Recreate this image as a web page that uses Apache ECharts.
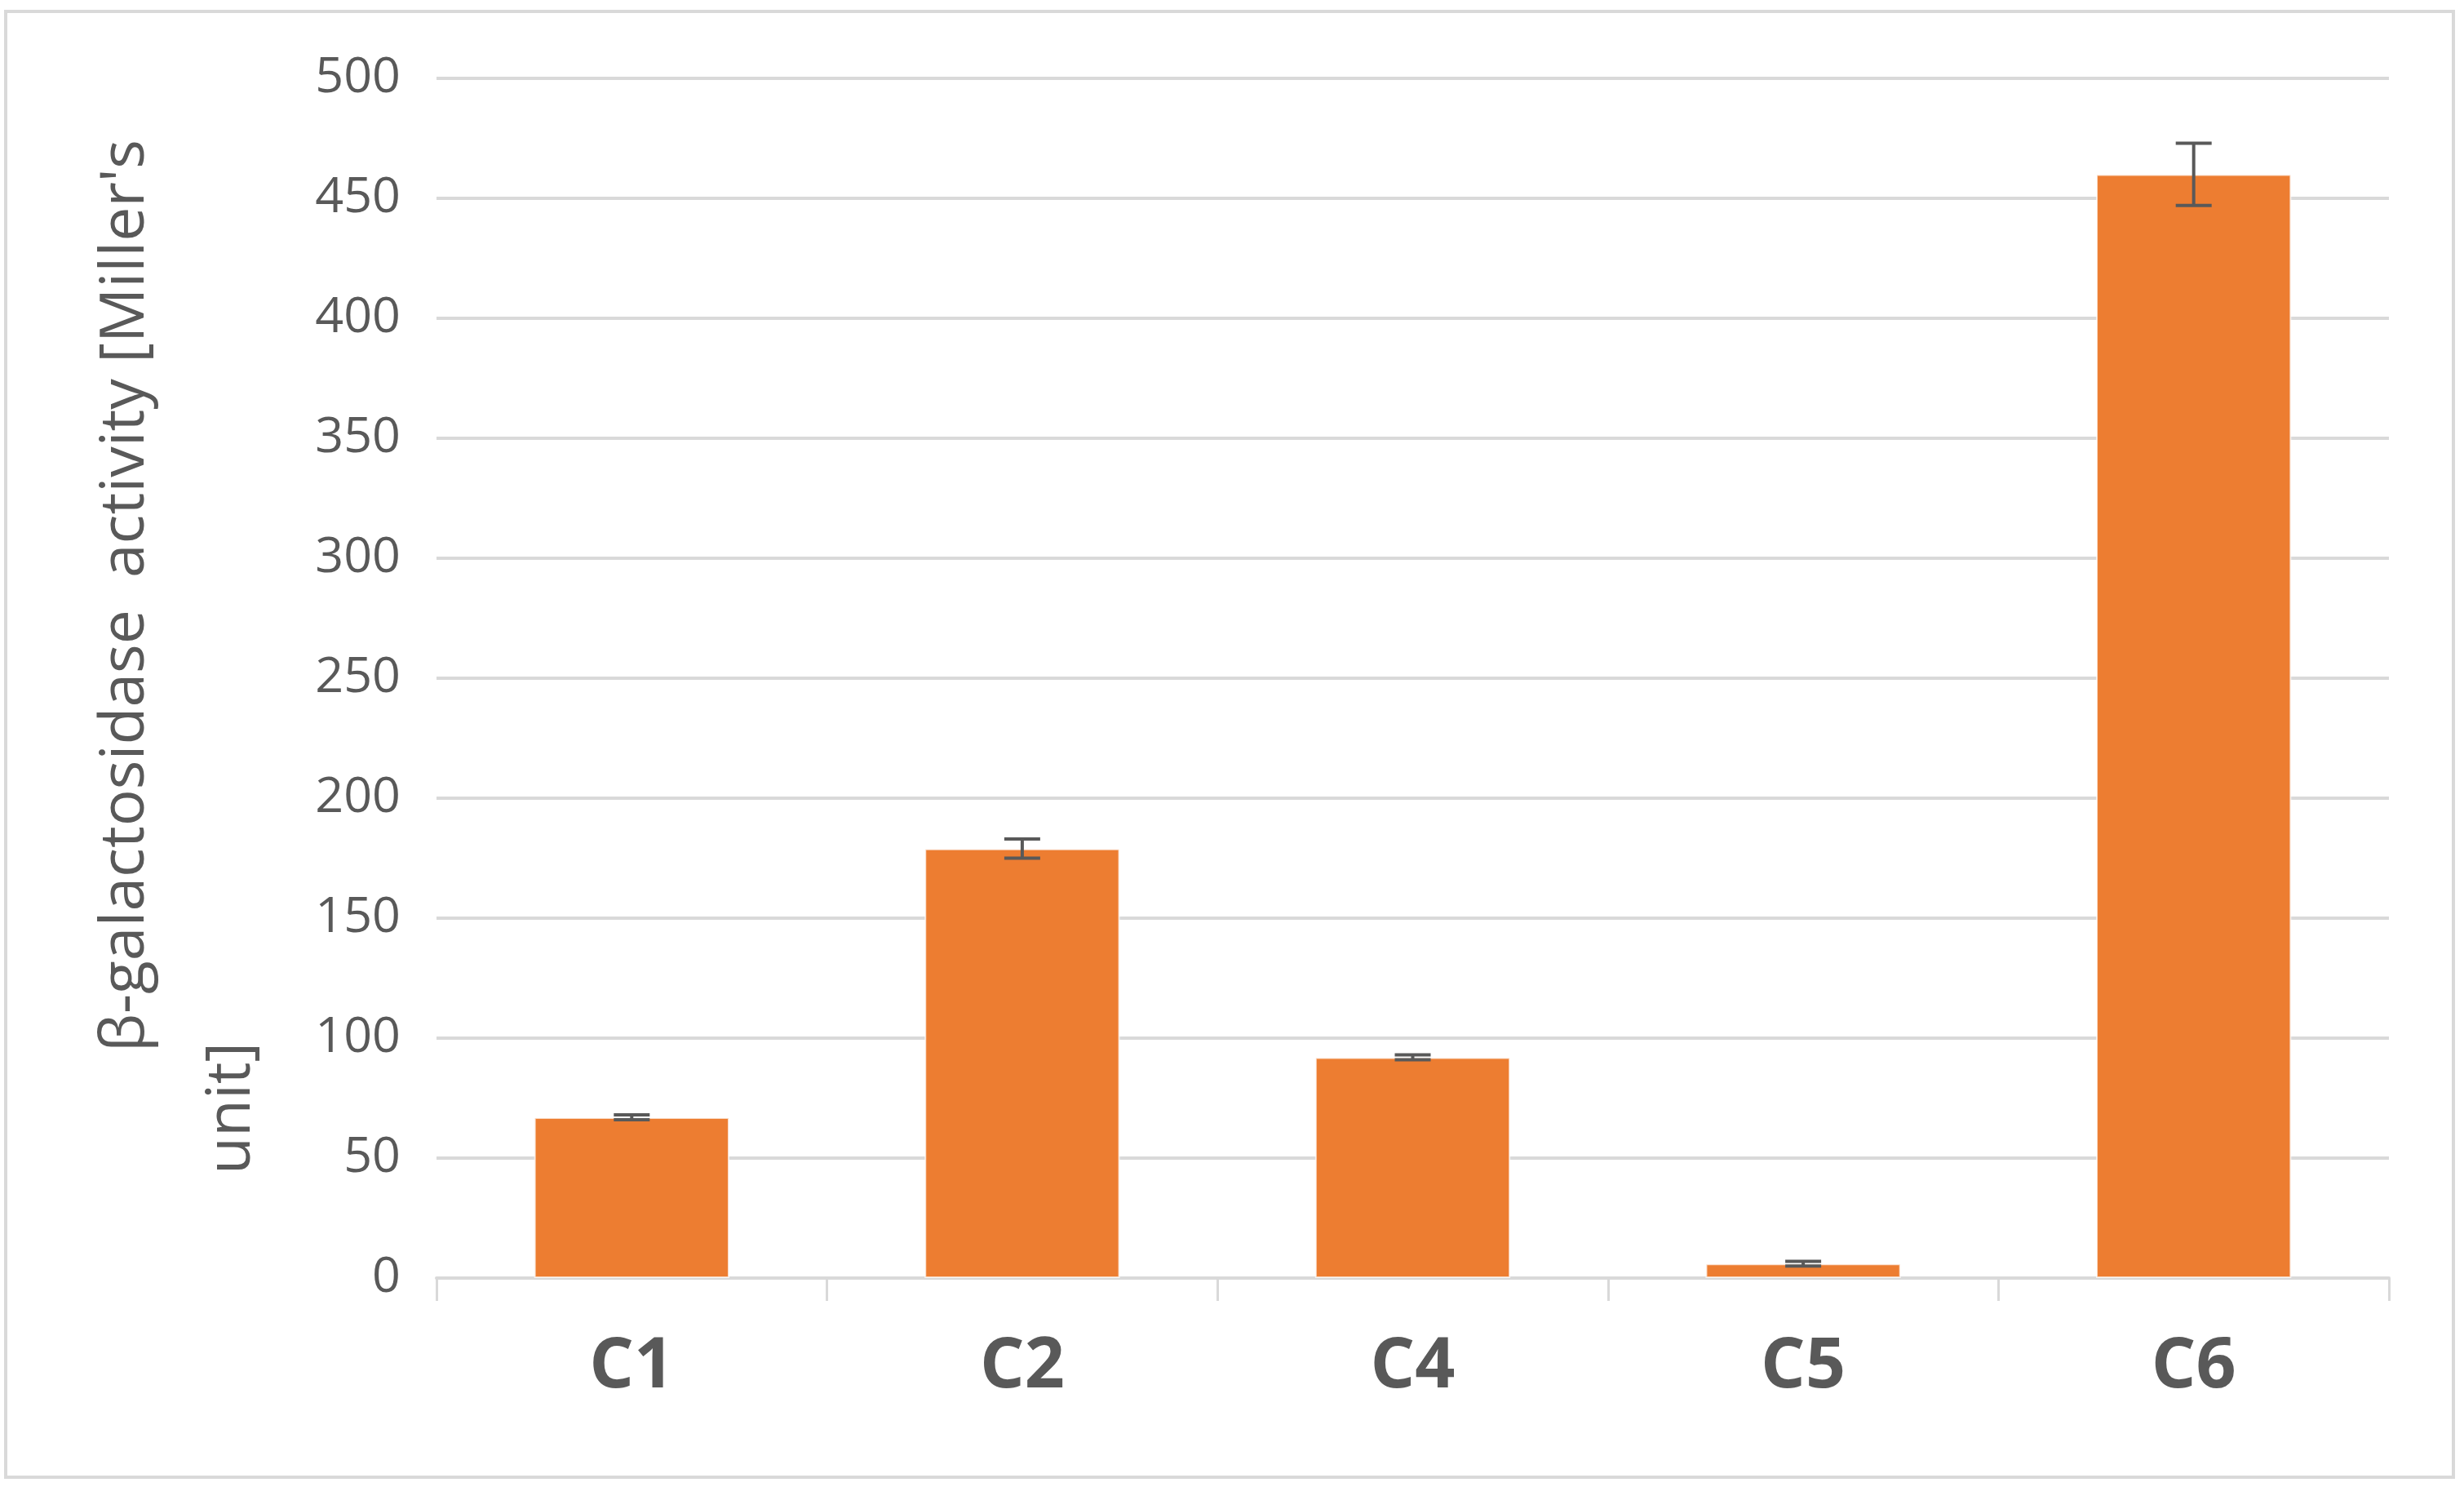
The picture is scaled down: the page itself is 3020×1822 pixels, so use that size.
<!DOCTYPE html>
<html><head><meta charset="utf-8">
<script src="https://cdn.jsdelivr.net/npm/echarts@6/dist/echarts.min.js"></script>
<style>html,body{margin:0;padding:0;background:#fff}#c{width:3020px;height:1822px}</style>
</head><body><div id="c"></div>
<script>
const categories = ['C1', 'C2', 'C4', 'C5', 'C6'];
const activity = [67, 179, 92, 6, 460];
const errors = [1, 4, 1, 1, 13];
const yMin = 0, yMax = 500, yStep = 50;
const axisTitleLines = ["β-galactosidase  activity [Miller's", "unit]"];

const errData = activity.map((v, i) => [i, v, errors[i]]);
const chart = echarts.init(document.getElementById('c'), null, {renderer: 'canvas'});
const FONT = '"Open Sans", "Noto Sans", sans-serif';
chart.setOption({
  animation: false,
  backgroundColor: '#fff',
  grid: {left: 535, right: 92, top: 96, bottom: 256, containLabel: false},
  xAxis: {
    type: 'category', data: categories,
    axisLine: {show: true, lineStyle: {color: '#d9d9d9', width: 4}},
    axisTick: {show: true, alignWithLabel: false, length: 28, lineStyle: {color: '#d9d9d9', width: 3}},
    axisLabel: {color: '#595959', fontFamily: FONT, fontWeight: 'bold', fontSize: 86, margin: 66}
  },
  yAxis: {
    type: 'value', min: yMin, max: yMax, interval: yStep,
    axisLine: {show: false}, axisTick: {show: false},
    splitLine: {lineStyle: {color: '#d9d9d9', width: 4}},
    axisLabel: {color: '#595959', fontFamily: FONT, fontSize: 61, margin: 44}
  },
  series: [
    {
      type: 'bar', data: activity, barWidth: '50%',
      itemStyle: {color: '#ED7D31', borderColor: 'rgba(255,255,255,0.7)', borderWidth: 2}
    },
    {
      type: 'custom', data: errData, z: 10,
      renderItem: function (params, api) {
        const x = api.value(0), v = api.value(1), e = api.value(2);
        const hi = api.coord([x, v + e]);
        const lo = api.coord([x, v - e]);
        const half = 22;
        const style = {stroke: '#595959', lineWidth: 4};
        return {type: 'group', children: [
          {type: 'line', shape: {x1: hi[0], y1: hi[1], x2: lo[0], y2: lo[1]}, style: style},
          {type: 'line', shape: {x1: hi[0] - half, y1: hi[1], x2: hi[0] + half, y2: hi[1]}, style: style},
          {type: 'line', shape: {x1: lo[0] - half, y1: lo[1], x2: lo[0] + half, y2: lo[1]}, style: style}
        ]};
      }
    }
  ],
  graphic: [
    {type: 'rect', shape: {x: 7, y: 14, width: 3000, height: 1796}, style: {fill: 'none', stroke: '#d9d9d9', lineWidth: 4}, silent: true},
    {type: 'text', x: 155, y: 730, rotation: Math.PI / 2,
      style: {text: axisTitleLines[0], fill: '#595959', font: '75px ' + FONT, textAlign: 'center', textVerticalAlign: 'middle'}},
    {type: 'text', x: 285, y: 1358, rotation: Math.PI / 2,
      style: {text: axisTitleLines[1], fill: '#595959', font: '75px ' + FONT, textAlign: 'center', textVerticalAlign: 'middle'}}
  ]
});
</script></body></html>
